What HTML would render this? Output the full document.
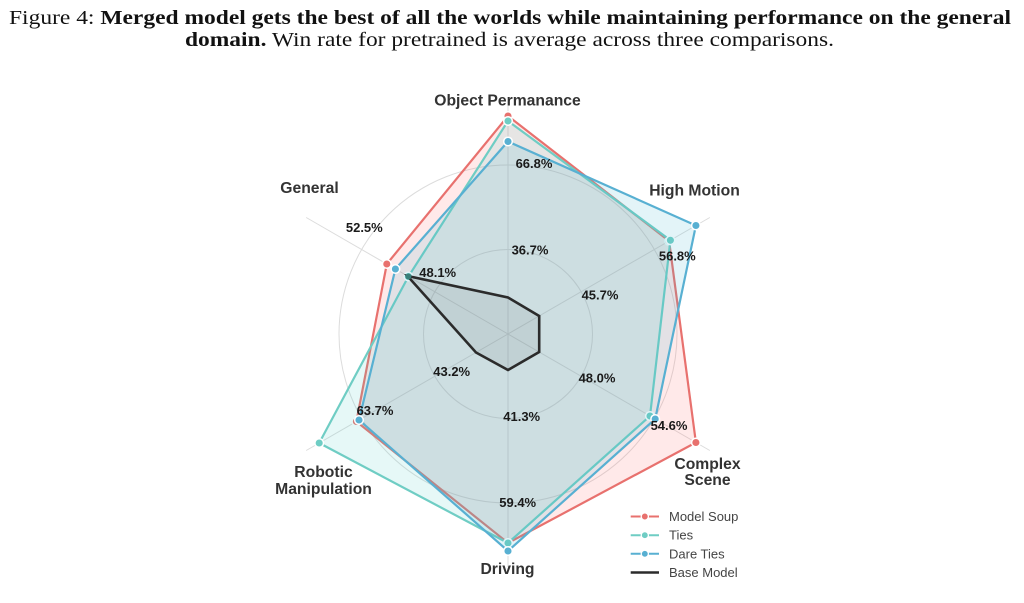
<!DOCTYPE html>
<html>
<head>
<meta charset="utf-8">
<style>
html,body{margin:0;padding:0;background:#fff;}
svg{display:block;}
.cat{font-family:"Liberation Sans",Arial,sans-serif;font-weight:bold;font-size:15.7px;fill:#333;text-anchor:middle;}
.val{font-family:"Liberation Sans",Arial,sans-serif;font-weight:bold;font-size:13px;fill:#1a1a1a;text-anchor:middle;}
.leg{font-family:"Liberation Sans",Arial,sans-serif;font-size:13px;fill:#444;}
</style>
</head>
<body>
<svg width="1024" height="603" viewBox="0 0 1024 603" xmlns="http://www.w3.org/2000/svg">
<rect width="1024" height="603" fill="#fff"/>
<!-- Title -->
<text x="9" y="24" textLength="1002" lengthAdjust="spacingAndGlyphs" font-family="'Liberation Serif',serif" font-size="20.5" fill="#111">Figure 4: <tspan font-weight="bold">Merged model gets the best of all the worlds while maintaining performance on the general</tspan></text>
<text x="185" y="46" textLength="649" lengthAdjust="spacingAndGlyphs" font-family="'Liberation Serif',serif" font-size="20.5" fill="#111"><tspan font-weight="bold">domain.</tspan> Win rate for pretrained is average across three comparisons.</text>

<!-- Grid -->
<g stroke="#dcdcdc" stroke-width="1" fill="none">
<circle cx="508" cy="334" r="84.5"/>
<circle cx="508" cy="334" r="169"/>
<line x1="508" y1="334" x2="508" y2="101"/>
<line x1="508" y1="334" x2="709.8" y2="217.5"/>
<line x1="508" y1="334" x2="709.8" y2="450.5"/>
<line x1="508" y1="334" x2="508" y2="567"/>
<line x1="508" y1="334" x2="306.2" y2="450.5"/>
<line x1="508" y1="334" x2="306.2" y2="217.5"/>
</g>

<!-- Model Soup -->
<polygon points="508,116 669.1,241 695.9,442.5 508,543 356.4,421.5 386.8,264" fill="#FF6B6B" fill-opacity="0.15" stroke="#e8716e" stroke-width="2.2" stroke-linejoin="miter"/>
<g fill="#e8716e" stroke="#fff" stroke-width="1.5">
<circle cx="508" cy="116" r="4.3"/><circle cx="669.1" cy="241" r="4.3"/><circle cx="695.9" cy="442.5" r="4.3"/><circle cx="508" cy="543" r="4.3"/><circle cx="356.4" cy="421.5" r="4.3"/><circle cx="386.8" cy="264" r="4.3"/>
</g>

<!-- Ties -->
<polygon points="508,121 670.4,240.3 650,416 508,543 319.2,443 408.4,276.5" fill="#4ECDC4" fill-opacity="0.14" stroke="#6fcdc4" stroke-width="2.2"/>
<g fill="#6fcdc4" stroke="#fff" stroke-width="1.5">
<circle cx="508" cy="121" r="4.3"/><circle cx="670.4" cy="240.3" r="4.3"/><circle cx="650" cy="416" r="4.3"/><circle cx="508" cy="543" r="4.3"/><circle cx="319.2" cy="443" r="4.3"/><circle cx="408.4" cy="276.5" r="4.3"/>
</g>

<!-- Dare Ties -->
<polygon points="508,141.5 695.9,225.5 655.2,419 508,551 359,420 395.4,269" fill="#45B7D1" fill-opacity="0.15" stroke="#58b0d2" stroke-width="2.2"/>
<g fill="#58b0d2" stroke="#fff" stroke-width="1.5">
<circle cx="508" cy="141.5" r="4.3"/><circle cx="695.9" cy="225.5" r="4.3"/><circle cx="655.2" cy="419" r="4.3"/><circle cx="508" cy="551" r="4.3"/><circle cx="359" cy="420" r="4.3"/><circle cx="395.4" cy="269" r="4.3"/>
</g>

<!-- Base Model -->
<polygon points="508,297.5 539.2,316 539.2,352 508,370 476,352.5 407.5,276" fill="#2c2c2c" fill-opacity="0.07" stroke="#2b2b2b" stroke-width="2.6" stroke-linejoin="miter"/>
<circle cx="408.4" cy="276.5" r="3" fill="#3a7f7a"/>

<!-- Category labels -->
<text class="cat" x="507.5" y="105.5">Object Permanance</text>
<text class="cat" x="309.5" y="193">General</text>
<text class="cat" x="694.5" y="195.5">High Motion</text>
<text class="cat" x="707.5" y="469">Complex</text>
<text class="cat" x="707.5" y="485">Scene</text>
<text class="cat" x="323.5" y="477">Robotic</text>
<text class="cat" x="323.5" y="494">Manipulation</text>
<text class="cat" x="507.5" y="574">Driving</text>

<!-- Value labels -->
<text class="val" x="530" y="254.5">36.7%</text>
<text class="val" x="600" y="299.5">45.7%</text>
<text class="val" x="597" y="382.5">48.0%</text>
<text class="val" x="521.7" y="421.2">41.3%</text>
<text class="val" x="451.7" y="376.2">43.2%</text>
<text class="val" x="437.7" y="277.2">48.1%</text>
<text class="val" x="534" y="167.8">66.8%</text>
<text class="val" x="364.3" y="231.8">52.5%</text>
<text class="val" x="677.3" y="260.5">56.8%</text>
<text class="val" x="669" y="430.2">54.6%</text>
<text class="val" x="517.7" y="507.2">59.4%</text>
<text class="val" x="375" y="415.2">63.7%</text>

<!-- Legend -->
<g>
<line x1="630.7" y1="516.5" x2="659" y2="516.5" stroke="#e8716e" stroke-width="2"/>
<circle cx="644.8" cy="516.5" r="3.6" fill="#e8716e" stroke="#fff" stroke-width="1.3"/>
<text class="leg" x="669" y="521">Model Soup</text>
<line x1="630.7" y1="535.2" x2="659" y2="535.2" stroke="#6fcdc4" stroke-width="2"/>
<circle cx="644.8" cy="535.2" r="3.6" fill="#6fcdc4" stroke="#fff" stroke-width="1.3"/>
<text class="leg" x="669" y="539.7">Ties</text>
<line x1="630.7" y1="553.8" x2="659" y2="553.8" stroke="#58b0d2" stroke-width="2"/>
<circle cx="644.8" cy="553.8" r="3.6" fill="#58b0d2" stroke="#fff" stroke-width="1.3"/>
<text class="leg" x="669" y="558.3">Dare Ties</text>
<line x1="630.7" y1="572.5" x2="659" y2="572.5" stroke="#2b2b2b" stroke-width="2.6"/>
<text class="leg" x="669" y="577">Base Model</text>
</g>
</svg>
</body>
</html>
